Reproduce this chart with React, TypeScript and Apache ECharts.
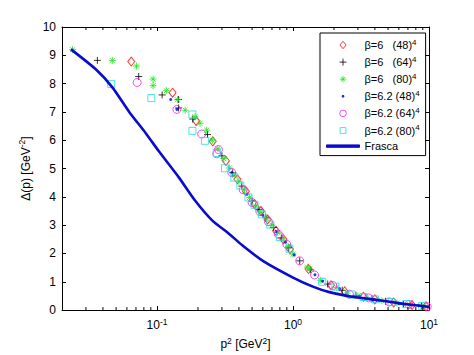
import React, { useEffect, useRef } from "react";
import * as echarts from "echarts";

const FONT = "Liberation Sans, Arial, Helvetica, sans-serif";

// legend labels: [base, superscript]
const legendLabels: [string, string][] = [
  ["β=6   (48)", "4"],
  ["β=6   (64)", "4"],
  ["β=6   (80)", "4"],
  ["β=6.2 (48)", "4"],
  ["β=6.2 (64)", "4"],
  ["β=6.2 (80)", "4"],
  ["Frasca", ""],
];
const seriesNames = ["b6_48", "b6_64", "b6_80", "b62_48", "b62_64", "b62_80", "Frasca"];

const xTickLabels: Record<string, string> = { "0.1": "-1", "1": "0", "10": "1" };
const yTicks = [0, 1, 2, 3, 4, 5, 6, 7, 8, 9, 10];
const minorTicks = [0.03, 0.04, 0.05, 0.06, 0.07, 0.08, 0.09, 0.2, 0.3, 0.4, 0.5, 0.6, 0.7, 0.8, 0.9, 2, 3, 4, 5, 6, 7, 8, 9];

const redDiamond: [number, number][] = [
  [0.0646, 8.78], [0.13, 7.68], [0.194, 6.68], [0.257, 5.96], [0.321, 5.27], [0.39, 4.62], [0.45, 4.2],
  [0.52, 3.75], [0.58, 3.5], [0.65, 3.2], [0.75, 2.8], [0.85, 2.5], [0.95, 2.15], [1.3, 1.45], [1.9, 0.88],
  [2.4, 0.66], [3.3, 0.47], [4.0, 0.38], [5.5, 0.27], [7.5, 0.18], [9.5, 0.13],
];
const blackPlus: [number, number][] = [
  [0.0364, 8.82], [0.0733, 8.25], [0.109, 7.6], [0.144, 7.44], [0.144, 7.14], [0.183, 6.75], [0.235, 6.2],
  [0.3, 5.45], [0.36, 4.85], [0.42, 4.38], [0.5, 3.85], [0.56, 3.55], [0.63, 3.28], [0.72, 2.92], [0.82, 2.55],
  [0.93, 2.2], [1.12, 1.74], [1.35, 1.42], [1.8, 0.92], [2.3, 0.7], [2.9, 0.52], [3.8, 0.41], [4.8, 0.31],
  [6.5, 0.21], [8.8, 0.15],
];
const greenStar: [number, number][] = [
  [0.0239, 9.2], [0.0469, 8.82], [0.0706, 8.62], [0.0935, 8.16], [0.0935, 7.93], [0.117, 7.75], [0.1415, 7.43],
  [0.161, 7.06], [0.19, 6.83], [0.207, 6.6], [0.232, 6.36], [0.255, 6.0], [0.28, 5.7], [0.31, 5.35], [0.34, 5.02],
  [0.37, 4.75], [0.4, 4.55], [0.44, 4.25], [0.48, 3.98], [0.53, 3.68], [0.58, 3.45], [0.64, 3.22], [0.7, 3.0],
  [0.77, 2.75], [0.85, 2.48], [0.92, 2.25], [1.0, 1.98], [1.28, 1.52], [1.32, 1.45], [1.6, 1.05], [2.1, 0.8],
  [2.5, 0.6], [3.0, 0.5], [3.5, 0.44], [4.5, 0.33], [5.8, 0.25], [7.2, 0.19], [9.0, 0.14],
];
const blueDot: [number, number][] = [
  [0.126, 7.44], [0.14, 7.09], [0.354, 4.86], [0.46, 4.1], [0.6, 3.35], [0.75, 2.78], [0.88, 2.4], [1.02, 1.95],
  [1.45, 1.25], [1.65, 1.02], [2.2, 0.75], [3.1, 0.49], [4.3, 0.35], [6, 0.23], [8.4, 0.16],
];
const magentaCircle: [number, number][] = [
  [0.0714, 8.04], [0.14, 7.09], [0.213, 6.22], [0.283, 5.67], [0.275, 5.52], [0.354, 4.86], [0.43, 4.25],
  [0.5, 3.8], [0.57, 3.48], [0.66, 3.12], [0.78, 2.68], [0.9, 2.32], [1.12, 1.74], [1.44, 1.24], [1.96, 0.87],
  [2.6, 0.56], [3.6, 0.43], [5.1, 0.29], [7.1, 0.2], [9.7, 0.12],
];
const cyanSquare: [number, number][] = [
  [0.046, 7.99], [0.0908, 7.49], [0.182, 6.91], [0.182, 6.33], [0.225, 5.98], [0.275, 5.55], [0.316, 5.01],
  [0.37, 4.68], [0.41, 4.4], [0.47, 3.98], [0.52, 3.72], [0.59, 3.38], [0.68, 3.02], [0.8, 2.58], [0.94, 2.17],
  [1.64, 1.0], [2.05, 0.83], [2.7, 0.55], [3.3, 0.46], [4.0, 0.38], [5.3, 0.28], [6.8, 0.21], [8.9, 0.15],
];
const frascaX = [0.0233, 0.0356, 0.0471, 0.0624, 0.0826, 0.1035, 0.145, 0.191, 0.254, 0.336, 0.421, 0.6, 1.0, 1.4, 1.85, 2.8, 4.3, 6.5, 10];
const frascaY = [9.21, 8.5, 7.86, 7.0, 6.25, 5.6, 4.68, 3.86, 3.17, 2.71, 2.3, 1.74, 1.15, 0.83, 0.635, 0.46, 0.347, 0.22, 0.115];

const PLUS = "path://M5,0L5,10M0,5L10,5";
const STAR = "path://M5,0L5,10M0,5L10,5M1.5,1.5L8.5,8.5M8.5,1.5L1.5,8.5";

// legend icons (33 x 8 boxes)
const BOX = "path://M0,0M33,8";
const legendIcons = [
  BOX + "M16.5,0.3L19.6,4L16.5,7.7L13.4,4Z",
  BOX + "M16.5,0.5L16.5,7.5M13,4L20,4",
  BOX + "M16.5,0.8L16.5,7.2M13.3,4L19.7,4M14.3,1.8L18.7,6.2M18.7,1.8L14.3,6.2",
  BOX + "M15.7,3.2L17.3,3.2L17.3,4.8L15.7,4.8Z",
  BOX + "M19.8,4A3.3,3.3,0,1,1,13.2,4A3.3,3.3,0,1,1,19.8,4Z",
  BOX + "M13.6,1.1L19.4,1.1L19.4,6.9L13.6,6.9Z",
  BOX + "M0,2.8L33,2.8L33,5.2L0,5.2Z",
];

export default function App() {
  const ref = useRef<HTMLDivElement>(null);
  useEffect(() => {
    const chart = echarts.init(ref.current!, undefined, { renderer: "svg" });
    const axisLine = { show: true, onZero: false, lineStyle: { color: "#000", width: 1 } };
    const scat = (name: string, data: [number, number][], symbol: string, size: number, color: string, filled = false) => ({
      type: "scatter",
      name,
      data,
      symbol,
      symbolSize: size,
      z: 3,
      itemStyle: filled
        ? { color, borderColor: color, borderWidth: 0 }
        : { color: "rgba(0,0,0,0)", borderColor: color, borderWidth: 1 },
    });
    const supRich = {
      b: { fontSize: 12, lineHeight: 16, fontFamily: FONT, color: "#000" },
      s: { fontSize: 8.5, lineHeight: 8, verticalAlign: "top", fontFamily: FONT, color: "#000" },
    };
    chart.setOption({
      animation: false,
      backgroundColor: "#fff",
      textStyle: { fontFamily: FONT },
      grid: { left: 62, right: 45, top: 27, bottom: 40 },
      legend: {
        orient: "vertical",
        left: 320,
        top: 33,
        padding: [5, 6, 4, 6],
        itemWidth: 33,
        itemHeight: 8,
        itemGap: 4.6,
        backgroundColor: "#fff",
        borderColor: "#000",
        borderWidth: 1,
        borderRadius: 0,
        itemStyle: { borderWidth: 1 },
        data: seriesNames.map((n, i) => ({ name: n, icon: legendIcons[i] })),
        formatter: (n: string) => {
          const i = seriesNames.indexOf(n);
          const [b, s] = legendLabels[i];
          return s ? `{b|${b}}{s|${s}}` : `{b|${b}}`;
        },
        textStyle: {
          fontFamily: FONT,
          rich: {
            b: { fontSize: 11, lineHeight: 14, fontFamily: FONT, color: "#000" },
            s: { fontSize: 8, lineHeight: 6, verticalAlign: "top", fontFamily: FONT, color: "#000" },
          },
        },
      },
      xAxis: [
        {
          type: "log",
          min: 0.02,
          max: 10,
          position: "bottom",
          axisLine,
          splitLine: { show: false },
          minorTick: { show: false },
          axisTick: { show: true, inside: true, length: 4, lineStyle: { color: "#000" } },
          axisLabel: {
            margin: 7,
            showMinLabel: false,
            formatter: (v: number) => {
              const k = String(+v.toPrecision(6));
              return xTickLabels[k] !== undefined ? `{b|10}{s|${xTickLabels[k]}}` : "";
            },
            rich: supRich,
          },
          name: "{b|p}{s|2}{b| [GeV}{s|2}{b|]}",
          nameLocation: "middle",
          nameGap: 15,
          nameTextStyle: { rich: supRich },
        },
        {
          type: "log",
          min: 0.02,
          max: 10,
          position: "top",
          axisLine,
          splitLine: { show: false },
          minorTick: { show: false },
          axisTick: { show: true, inside: true, length: 4, lineStyle: { color: "#000" } },
          axisLabel: { show: false },
        },
      ],
      yAxis: [
        {
          type: "value",
          min: 0,
          max: 10,
          interval: 1,
          position: "left",
          axisLine,
          splitLine: { show: false },
          axisTick: { show: true, inside: true, length: 4, lineStyle: { color: "#000" } },
          axisLabel: {
            margin: 6,
            fontSize: 12,
            color: "#000",
            fontFamily: FONT,
            formatter: (v: number) => (yTicks.includes(v) ? String(v) : ""),
          },
          name: "{b|Δ(p) [GeV}{s|-2}{b|]}",
          nameLocation: "middle",
          nameGap: 19,
          nameTextStyle: { rich: supRich },
        },
        {
          type: "value",
          min: 0,
          max: 10,
          interval: 1,
          position: "right",
          axisLine,
          splitLine: { show: false },
          axisTick: { show: true, inside: true, length: 4, lineStyle: { color: "#000" } },
          axisLabel: { show: false },
        },
      ],
      series: [
        scat("b6_48", redDiamond, "diamond", [7, 9] as any, "#ff0000"),
        scat("b6_64", blackPlus, PLUS, 7, "#000000"),
        scat("b6_80", greenStar, STAR, 7, "#1fe61f"),
        scat("b62_48", blueDot, "circle", 3, "#0000ff", true),
        scat("b62_64", magentaCircle, "circle", 8, "#ee22ee"),
        scat("b62_80", cyanSquare, "rect", 7, "#22dddd"),
        {
          type: "line",
          name: "Frasca",
          data: frascaX.map((x, i) => [x, frascaY[i]]),
          smooth: 0.2,
          symbol: "none",
          z: 4,
          lineStyle: { color: "#0a0ad0", width: 2.6 },
          itemStyle: { color: "#0a0ad0", borderColor: "#0a0ad0" },
        },
        {
          type: "custom",
          name: "minorTicks",
          data: minorTicks.map((v) => [v, 0]),
          z: 5,
          silent: true,
          renderItem: (params: any, api: any) => {
            const v = api.value(0);
            const x = api.coord([v, 0])[0];
            const cs = params.coordSys;
            const top = cs.y;
            const bot = cs.y + cs.height;
            return {
              type: "group",
              children: [
                { type: "line", shape: { x1: x, y1: bot, x2: x, y2: bot - 3 }, style: { stroke: "#000", lineWidth: 1 } },
                { type: "line", shape: { x1: x, y1: top, x2: x, y2: top + 3 }, style: { stroke: "#000", lineWidth: 1 } },
              ],
            };
          },
        },
      ],
    });
    return () => chart.dispose();
  }, []);
  return <div ref={ref} style={{ position: "fixed", left: 0, top: 0, width: 474, height: 355 }} />;
}
